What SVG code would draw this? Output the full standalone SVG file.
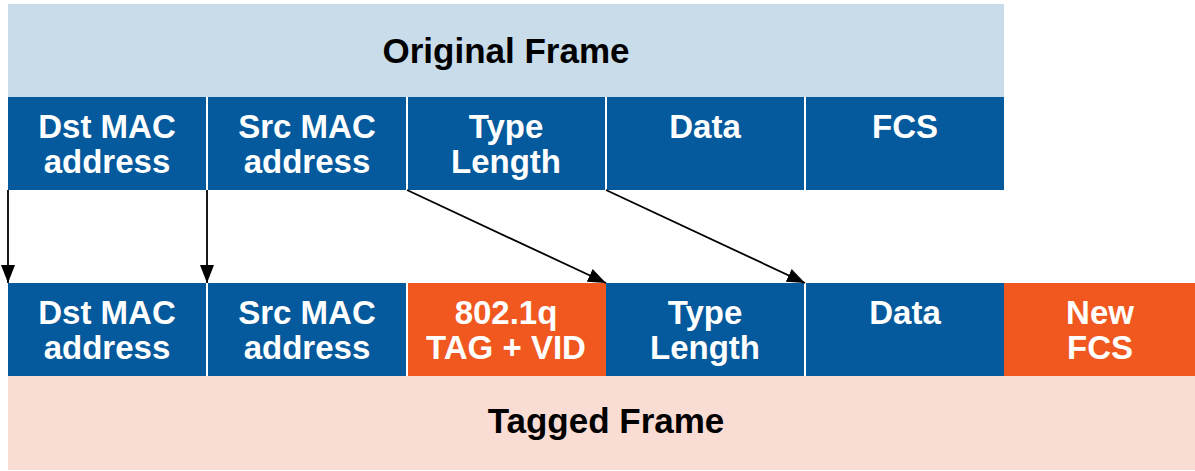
<svg xmlns="http://www.w3.org/2000/svg" width="1195" height="471" viewBox="0 0 1195 471">
<style>
.t{font-family:"Liberation Sans",Arial,sans-serif;font-weight:bold;font-size:33px;text-anchor:middle}
.b{font-size:35px}
.w{fill:#ffffff}
.k{fill:#000000}
.blue{fill:#045a9c}
.org{fill:#f0581f}
.c{stroke:#000;stroke-width:1.8;fill:none}
</style>
<defs>
<marker id="ah" markerWidth="18" markerHeight="14" refX="18" refY="7" orient="auto" markerUnits="userSpaceOnUse">
<path d="M0,0 L18,7 L0,14 z" fill="#000"/>
</marker>
</defs>
<rect x="0" y="0" width="1195" height="471" fill="#ffffff"/>
<g id="original-frame">
<rect x="8" y="4" width="996" height="93" fill="#c9dcea"/>
<text class="t b k" x="506" y="63">Original Frame</text>
</g>
<g id="o-dst"><rect class="blue" x="8" y="97" width="198" height="93"/><text class="t w" x="107" y="138">Dst MAC</text><text class="t w" x="107" y="173">address</text></g>
<g id="o-src"><rect class="blue" x="208" y="97" width="198" height="93"/><text class="t w" x="307" y="138">Src MAC</text><text class="t w" x="307" y="173">address</text></g>
<g id="o-type"><rect class="blue" x="408" y="97" width="197" height="93"/><text class="t w" x="506" y="138">Type</text><text class="t w" x="506" y="173">Length</text></g>
<g id="o-data"><rect class="blue" x="607" y="97" width="197" height="93"/><text class="t w" x="705" y="138">Data</text></g>
<g id="o-fcs"><rect class="blue" x="806" y="97" width="198" height="93"/><text class="t w" x="905" y="138">FCS</text></g>
<g id="tagged-frame">
<rect x="8" y="376" width="1187" height="94" fill="#f9dcd3"/>
<text class="t b k" x="606" y="433">Tagged Frame</text>
</g>
<g id="t-dst"><rect class="blue" x="8" y="283" width="198" height="93"/><text class="t w" x="107" y="324">Dst MAC</text><text class="t w" x="107" y="359">address</text></g>
<g id="t-src"><rect class="blue" x="208" y="283" width="198" height="93"/><text class="t w" x="307" y="324">Src MAC</text><text class="t w" x="307" y="359">address</text></g>
<g id="t-tag"><rect class="org" x="408" y="283" width="198" height="93"/><text class="t w" x="506" y="324">802.1q</text><text class="t w" x="506" y="359">TAG + VID</text></g>
<g id="t-type"><rect class="blue" x="606" y="283" width="198" height="93"/><text class="t w" x="705" y="324">Type</text><text class="t w" x="705" y="359">Length</text></g>
<g id="t-data"><rect class="blue" x="806" y="283" width="198" height="93"/><text class="t w" x="905" y="324">Data</text></g>
<g id="t-fcs"><rect class="org" x="1004" y="283" width="191" height="93"/><text class="t w" x="1100" y="324">New</text><text class="t w" x="1100" y="359">FCS</text></g>
<g id="connectors">
<line class="c" x1="8" y1="190" x2="8" y2="283" marker-end="url(#ah)"/>
<line class="c" x1="207" y1="190" x2="207" y2="283" marker-end="url(#ah)"/>
<line class="c" x1="407" y1="190" x2="606" y2="283" marker-end="url(#ah)"/>
<line class="c" x1="606" y1="190" x2="805" y2="283" marker-end="url(#ah)"/>
</g>
</svg>
